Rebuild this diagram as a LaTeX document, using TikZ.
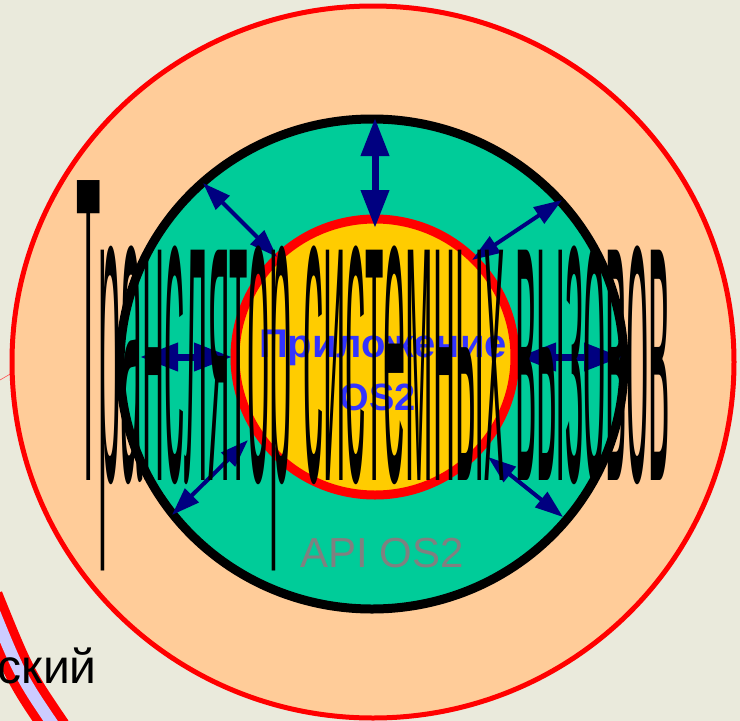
\documentclass[tikz,border=0pt]{standalone}
\usepackage{fontspec}
\setmainfont{Liberation Sans}
\usetikzlibrary{arrows.meta}
\definecolor{bgbeige}{RGB}{234,234,220}
\definecolor{ringorange}{RGB}{255,204,153}
\definecolor{ringgreen}{RGB}{0,204,153}
\definecolor{coreyellow}{RGB}{255,204,0}
\definecolor{arrnavy}{RGB}{0,0,128}
\definecolor{appblue}{RGB}{51,51,255}
\definecolor{apigrey}{RGB}{128,128,128}
\definecolor{lavender}{RGB}{204,204,255}
\tikzset{
  thickarrow/.style={draw=arrnavy, line width=7pt, {Triangle[length=38pt,width=27pt]}-{Triangle[length=38pt,width=27pt]}},
  thinarrow/.style={draw=arrnavy, line width=4pt, {Triangle[length=28pt,width=19pt]}-{Triangle[length=28pt,width=19pt]}},
  plain/.style={inner sep=0pt, outer sep=0pt}
}
\begin{document}
\begin{tikzpicture}[x=1pt,y=-1pt]
\useasboundingbox (0,0) rectangle (740,721);
\fill[bgbeige] (0,0) rectangle (740,721);
% stripe bottom-left
\coordinate (s1) at (-12,597);
\coordinate (s2) at (56,729);
\draw[red, line width=30pt] (s1) .. controls (20,676) .. (s2);
\draw[lavender, line width=12pt] (s1) .. controls (20,676) .. (s2);
\coordinate (t1) at (0,380);
\coordinate (t2) at (12,373);
\draw[red!70, line width=0.6pt] (t1) -- (t2);
% outer ring
\filldraw[fill=ringorange, draw=red, line width=5pt] (373,362) ellipse [x radius=361pt, y radius=356pt];
% green ring
\filldraw[fill=ringgreen, draw=black, line width=9pt] (372,364) ellipse [x radius=252pt, y radius=245pt];
% yellow core
\filldraw[fill=coreyellow, draw=red, line width=9pt] (375,357) ellipse [x radius=140pt, y radius=138pt];
% arrow end points
\coordinate (nA) at (375,118);  \coordinate (nB) at (375,228);
\coordinate (wA) at (140,357);  \coordinate (wB) at (232,357);
\coordinate (eA) at (518,357);  \coordinate (eB) at (622,357);
\coordinate (nwA) at (203,183); \coordinate (nwB) at (277,257);
\coordinate (neA) at (562,200); \coordinate (neB) at (472,260);
\coordinate (swA) at (172,515); \coordinate (swB) at (248,440);
\coordinate (seA) at (563,517); \coordinate (seB) at (488,457);
\draw[thickarrow] (nA) -- (nB);
\draw[thickarrow] (wA) -- (wB);
\draw[thickarrow] (eA) -- (eB);
\draw[thinarrow] (nwA) -- (nwB);
\draw[thinarrow] (neA) -- (neB);
\draw[thinarrow] (swA) -- (swB);
\draw[thinarrow] (seA) -- (seB);
% texts
\node[plain, anchor=base, text=appblue, font=\bfseries\fontsize{40pt}{40pt}\selectfont] (app) at (383,357) {Приложение};
\node[plain, anchor=base, text=appblue, font=\bfseries\fontsize{38pt}{38pt}\selectfont] (os) at (378,410) {OS2};
\node[plain, anchor=base, text=apigrey, font=\fontsize{42pt}{42pt}\selectfont] (api) at (382,567) {API OS2};
\node[plain, anchor=base west] (title) at (76,480) {\scalebox{1}[10.9]{\fontsize{40pt}{40pt}\selectfont Транслятор системных вызовов}};
\node[plain, anchor=base west, font=\fontsize{48pt}{48pt}\selectfont] (cut) at (-2,683) {ский};
\end{tikzpicture}
\end{document}
